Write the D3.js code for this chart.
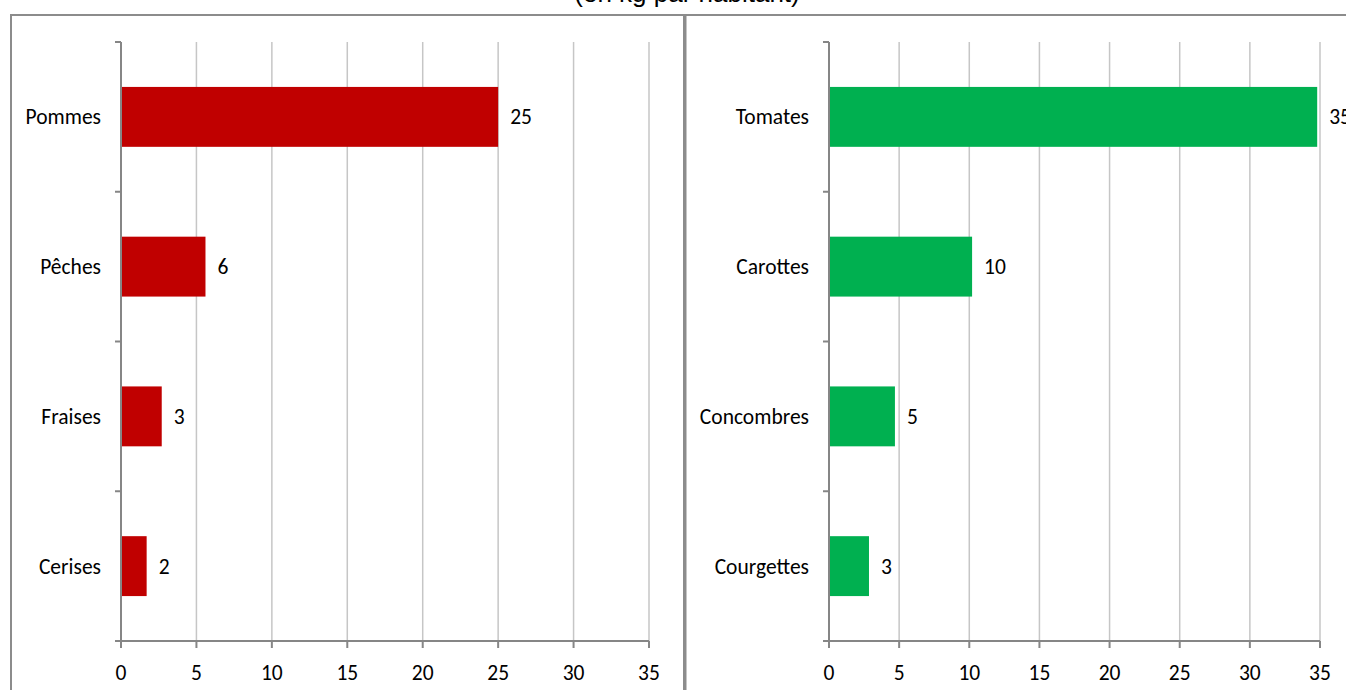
<!DOCTYPE html>
<html>
<head>
<meta charset="utf-8">
<script src="https://cdn.jsdelivr.net/npm/d3@7"></script>
<style>
  html, body { margin: 0; padding: 0; background: #fff; overflow: hidden; }
  svg { display: block; }
  .lbl { font-family: Carlito, Lato, sans-serif; font-size: 21.5px; fill: #000; }
  .title { font-family: "Liberation Sans", Arial, sans-serif; font-size: 26px; fill: #000; }
</style>
</head>
<body>
<div id="chart"></div>
<script>
const title = "(en kg par habitant)";

const fruits = ["Pommes", "Pêches", "Fraises", "Cerises"];
const fruitValues = [25, 5.6, 2.7, 1.7];

const legumes = ["Tomates", "Carottes", "Concombres", "Courgettes"];
const legumeValues = [34.8, 10.2, 4.7, 2.85];

const xTicks = [0, 5, 10, 15, 20, 25, 30, 35];

const W = 1346, H = 690;

const svg = d3.select("#chart")
  .append("svg")
  .attr("width", W)
  .attr("height", H);

// title runs off the top of the frame, as in the source picture
svg.append("text")
  .attr("class", "title")
  .attr("x", 687)
  .attr("y", 2)
  .attr("text-anchor", "middle")
  .text(title);

// panel frames
svg.append("rect")
  .attr("x", 11).attr("y", 15)
  .attr("width", 673).attr("height", 700)
  .attr("fill", "none")
  .attr("stroke", "#8c8c8c")
  .attr("stroke-width", 2);

svg.append("rect")
  .attr("x", 685.5).attr("y", 15)
  .attr("width", 700).attr("height", 700)
  .attr("fill", "none")
  .attr("stroke", "#8c8c8c")
  .attr("stroke-width", 2);

function drawPanel(cats, vals, color, x0, x1) {
  const top = 42, bottom = 641;

  const x = d3.scaleLinear().domain([0, 35]).range([x0, x1]);
  const y = d3.scaleBand()
    .domain(cats)
    .range([top, bottom])
    .paddingInner(0.6)
    .paddingOuter(0.3);

  const g = svg.append("g");

  // gridlines
  g.selectAll(".grid")
    .data(xTicks.slice(1))
    .enter()
    .append("line")
    .attr("x1", d => x(d)).attr("x2", d => x(d))
    .attr("y1", top).attr("y2", bottom)
    .attr("stroke", "#c6c6c6")
    .attr("stroke-width", 1.5);

  // bars
  g.selectAll(".bar")
    .data(cats)
    .enter()
    .append("rect")
    .attr("x", x(0))
    .attr("y", d => y(d))
    .attr("width", (d, i) => x(vals[i]) - x(0))
    .attr("height", y.bandwidth())
    .attr("fill", color);

  // value labels
  g.selectAll(".val")
    .data(cats)
    .enter()
    .append("text")
    .attr("class", "lbl")
    .attr("x", (d, i) => x(vals[i]) + 12)
    .attr("y", d => y(d) + y.bandwidth() / 2)
    .attr("dy", "0.35em")
    .text((d, i) => Math.round(vals[i]));

  // y axis: line + ticks between categories
  const edges = d3.range(cats.length + 1).map(i => top + (bottom - top) * i / cats.length);

  g.append("line")
    .attr("x1", x(0)).attr("x2", x(0))
    .attr("y1", top).attr("y2", bottom)
    .attr("stroke", "#868686").attr("stroke-width", 2);

  g.selectAll(".ytick")
    .data(edges)
    .enter()
    .append("line")
    .attr("x1", x(0) - 6).attr("x2", x(0))
    .attr("y1", d => d).attr("y2", d => d)
    .attr("stroke", "#868686").attr("stroke-width", 2);

  g.selectAll(".cat")
    .data(cats)
    .enter()
    .append("text")
    .attr("class", "lbl")
    .attr("x", x(0) - 20)
    .attr("y", d => y(d) + y.bandwidth() / 2)
    .attr("dy", "0.35em")
    .attr("text-anchor", "end")
    .text(d => d);

  // x axis
  g.append("line")
    .attr("x1", x(0) - 6).attr("x2", x(35))
    .attr("y1", bottom).attr("y2", bottom)
    .attr("stroke", "#868686").attr("stroke-width", 2);

  g.selectAll(".xtick")
    .data(xTicks)
    .enter()
    .append("line")
    .attr("x1", d => x(d)).attr("x2", d => x(d))
    .attr("y1", bottom).attr("y2", bottom + 7)
    .attr("stroke", "#868686").attr("stroke-width", 2);

  g.selectAll(".xlab")
    .data(xTicks)
    .enter()
    .append("text")
    .attr("class", "lbl")
    .attr("x", d => x(d))
    .attr("y", bottom + 39)
    .attr("text-anchor", "middle")
    .text(d => d);
}

drawPanel(fruits, fruitValues, "#c00000", 121, 649);
drawPanel(legumes, legumeValues, "#00b050", 829, 1320);
</script>
</body>
</html>
